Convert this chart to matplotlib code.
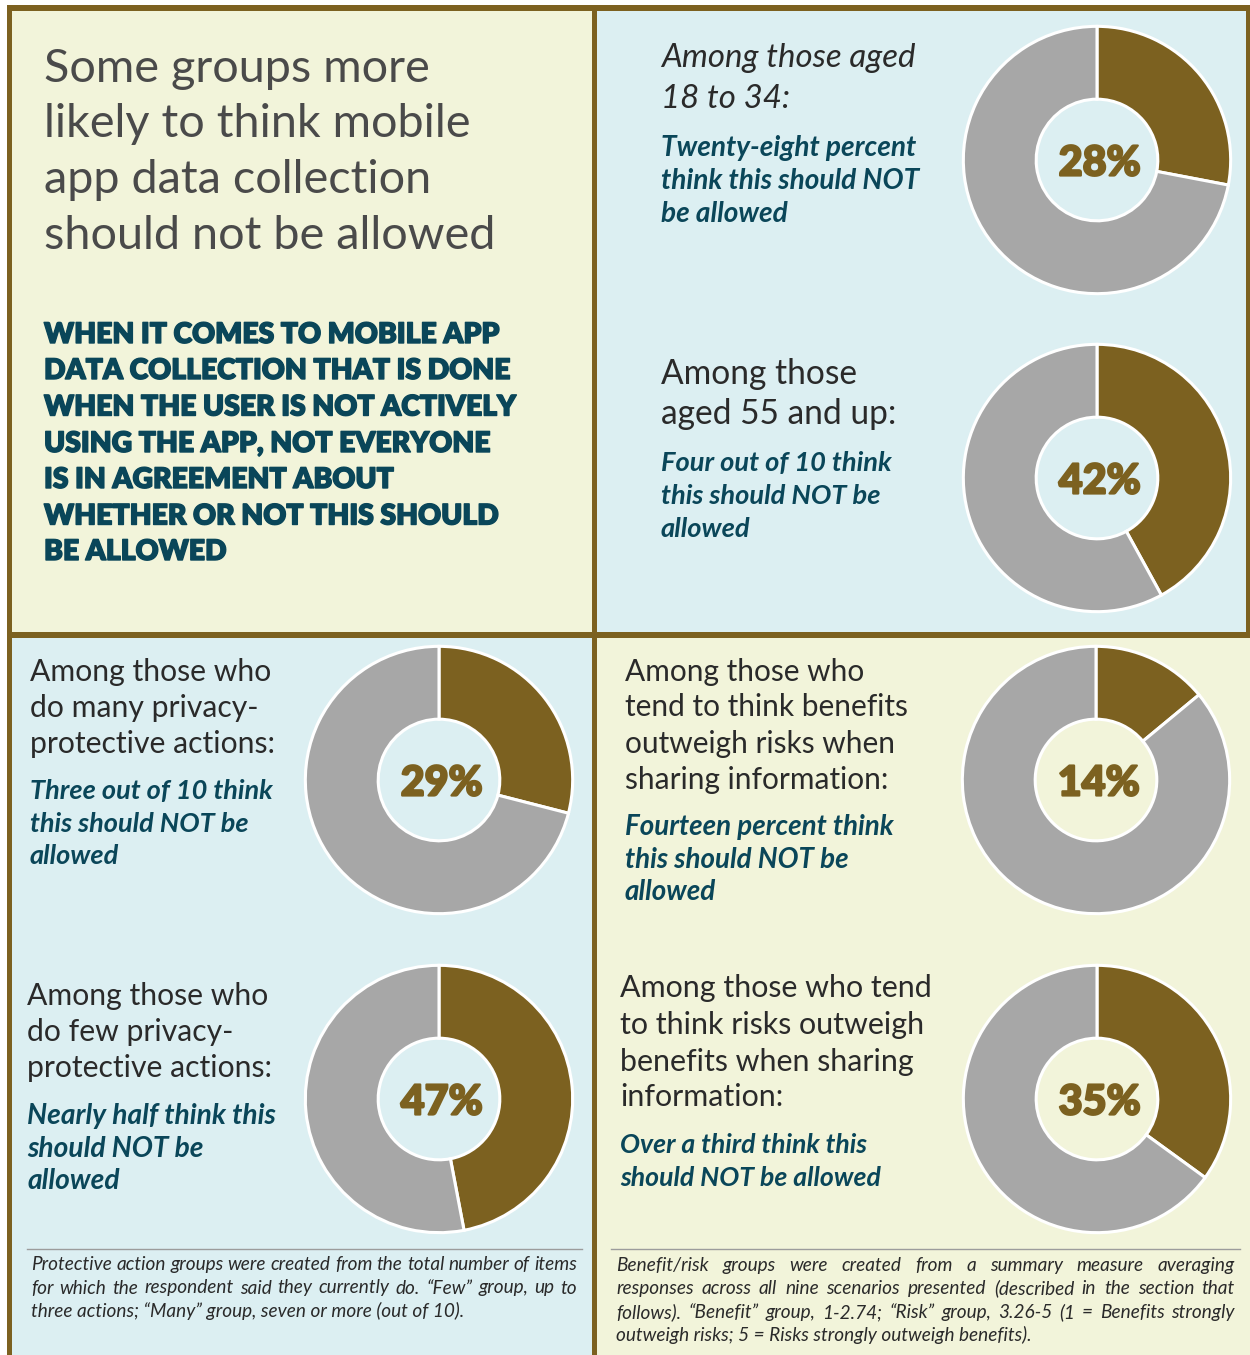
import matplotlib
matplotlib.use("Agg")
import matplotlib.pyplot as plt
import matplotlib.patheffects as pe
from matplotlib.patches import Rectangle

# ---------------- data ----------------
groups = ["Aged 18 to 34", "Aged 55 and up", "Many privacy-protective actions",
          "Few privacy-protective actions", "Benefits outweigh risks", "Risks outweigh benefits"]
pct_not_allowed = [28, 42, 29, 47, 14, 35]

title_lines = ["Some groups more", "likely to think mobile", "app data collection", "should not be allowed"]
lead_lines = ["WHEN IT COMES TO MOBILE APP", "DATA COLLECTION THAT IS DONE",
              "WHEN THE USER IS NOT ACTIVELY", "USING THE APP, NOT EVERYONE",
              "IS IN AGREEMENT ABOUT", "WHETHER OR NOT THIS SHOULD", "BE ALLOWED"]
group_text = [
    ["Among those aged", "18 to 34:"],
    ["Among those", "aged 55 and up:"],
    ["Among those who", "do many privacy-", "protective actions:"],
    ["Among those who", "do few privacy-", "protective actions:"],
    ["Among those who", "tend to think benefits", "outweigh risks when", "sharing information:"],
    ["Among those who tend", "to think risks outweigh", "benefits when sharing", "information:"],
]
group_sub = [
    ["Twenty-eight percent", "think this should NOT", "be allowed"],
    ["Four out of 10 think", "this should NOT be", "allowed"],
    ["Three out of 10 think", "this should NOT be", "allowed"],
    ["Nearly half think this", "should NOT be", "allowed"],
    ["Fourteen percent think", "this should NOT be", "allowed"],
    ["Over a third think this", "should NOT be allowed"],
]
note_left = ["Protective action groups were created from the total number of items",
             "for which the respondent said they currently do.  \u201cFew\u201d group, up to",
             "three actions; \u201cMany\u201d group, seven or more (out of 10)."]
note_right = ["Benefit/risk groups were created from a summary measure averaging",
              "responses across all nine scenarios presented (described in the section that",
              "follows).  \u201cBenefit\u201d group, 1-2.74; \u201cRisk\u201d group, 3.26-5 (1 = Benefits strongly",
              "outweigh risks; 5 = Risks strongly outweigh benefits)."]

# ---------------- style ----------------
W, H = 1250, 1355
BROWN = "#7C6120"
GRAY = "#A7A7A7"
CREAM = "#F2F4DA"
BLUE = "#DCEFF2"
TEAL = "#0A4659"
DARK = "#2A2A2A"
TITLEC = "#4A4A4A"
FONT = "Lato"

fig = plt.figure(figsize=(W / 100, H / 100), dpi=100)
bg = fig.add_axes([0, 0, 1, 1])
bg.set_xlim(0, W)
bg.set_ylim(H, 0)
bg.axis("off")
fig.patch.set_facecolor("white")
renderer = fig.canvas.get_renderer()

def rect(x0, y0, x1, y1, color, z=0):
    bg.add_patch(Rectangle((x0, y0), x1 - x0, y1 - y0, facecolor=color, edgecolor="none", zorder=z))

# panels
rect(0, 0, W, H, "white", 0)
rect(12, 11, 592, 632, CREAM, 1)
rect(597, 11, 1246, 632, BLUE, 1)
rect(12, 638, 592, H, BLUE, 1)
rect(597, 638, W, H, CREAM, 1)
# borders
rect(7, 5, W, 11, BROWN, 2)
rect(7, 5, 12, H, BROWN, 2)
rect(1246, 5, W, 638, BROWN, 2)
rect(592, 5, 597, H, BROWN, 2)
rect(7, 632, W, 638, BROWN, 2)

def width_of(t):
    return t.get_window_extent(renderer).width

def block(lines, x, baselines, target_w, color, **kw):
    ts = [bg.text(x, y, s, ha="left", va="baseline", color=color, family=FONT,
                  fontsize=20, zorder=5, **kw) for s, y in zip(lines, baselines)]
    w = max(width_of(t) for t in ts)
    fs = 20 * target_w / w
    for t in ts:
        t.set_fontsize(fs)
    return ts

def justified(lines, x0, x1, baselines, fs, color, **kw):
    for i, (s, y) in enumerate(zip(lines, baselines)):
        if i == len(lines) - 1:
            bg.text(x0, y, s, ha="left", va="baseline", color=color, family=FONT,
                    fontsize=fs, zorder=5, **kw)
            continue
        words = s.split()
        ts = [bg.text(0, y, wd, ha="left", va="baseline", color=color, family=FONT,
                      fontsize=fs, zorder=5, **kw) for wd in words]
        ws = [width_of(t) for t in ts]
        gap = (x1 - x0 - sum(ws)) / (len(words) - 1)
        xx = x0
        for t, wdt in zip(ts, ws):
            t.set_x(xx)
            xx += wdt + gap

# title & lead
block(title_lines, 44, [82, 137, 193, 249], 453, TITLEC, fontweight="normal")
lead = block(lead_lines, 44, [343, 379, 415.5, 452, 488, 524.5, 560], 472, TEAL, fontweight="heavy")
for t in lead:
    t.set_path_effects([pe.withStroke(linewidth=1.0, foreground=TEAL)])

# group texts
layout = [
    dict(x=661, base=[67, 108], sub=[156, 189, 222], tw=254, sw=258, italic=True),
    dict(x=661, base=[384.5, 424.5], sub=[471, 504, 537], tw=236, sw=230, italic=False),
    dict(x=30, base=[680.5, 716.5, 752.5], sub=[799, 832, 864.5], tw=246, sw=242, italic=False),
    dict(x=27, base=[1005.5, 1041.5, 1077.5], sub=[1124, 1157, 1189], tw=246, sw=249, italic=False),
    dict(x=625, base=[680.5, 716.5, 752.5, 788.5], sub=[835.5, 868, 900], tw=285, sw=269, italic=False),
    dict(x=620, base=[997.5, 1034, 1070.5, 1106.5], sub=[1153, 1185.5], tw=312, sw=260, italic=False),
]
for lines, sub, L in zip(group_text, group_sub, layout):
    block(lines, L["x"], L["base"], L["tw"], DARK, fontweight="normal",
          fontstyle="italic" if L["italic"] else "normal")
    block(sub, L["x"], L["sub"], L["sw"], TEAL, fontweight="bold", fontstyle="italic")

# donuts
centers = [(1097, 160), (1097, 478), (439, 780), (439, 1099), (1096, 780), (1097, 1099)]
R = 135
for (cx, cy), v in zip(centers, pct_not_allowed):
    ax = fig.add_axes([(cx - R) / W, 1 - (cy + R) / H, 2 * R / W, 2 * R / H])
    ax.pie([v, 100 - v], colors=[BROWN, GRAY], startangle=90, counterclock=False,
           radius=1.0, wedgeprops=dict(width=0.545, edgecolor="white", linewidth=2.2))
    ax.set_xlim(-1.01, 1.01)
    ax.set_ylim(-1.01, 1.01)
    ax.set_aspect("equal")
    ax.axis("off")
    t = ax.text(0.02, 0.0, f"{v}%", ha="center", va="center_baseline", color=BROWN,
                family=FONT, fontweight="black", fontsize=29)
    t.set_fontsize(29 * 82 / width_of(t))
    t.set_path_effects([pe.withStroke(linewidth=1.6, foreground=BROWN)])

# footnotes
bg.plot([27, 582], [1249, 1249], color="#9C9C9C", lw=1.0, zorder=5)
bg.plot([611, 1240], [1249, 1249], color="#9C9C9C", lw=1.0, zorder=5)
tmp = bg.text(0, 0, note_left[0], family=FONT, fontstyle="italic", fontsize=12)
fsn = 12 * 546 / width_of(tmp)
tmp.remove()
justified(note_left, 31, 577, [1270, 1293.5, 1317], fsn, DARK, fontstyle="italic")
justified(note_right, 616, 1235, [1271, 1294, 1318, 1341.5], fsn, DARK, fontstyle="italic")

fig.savefig("out.png", dpi=100, facecolor="white")
